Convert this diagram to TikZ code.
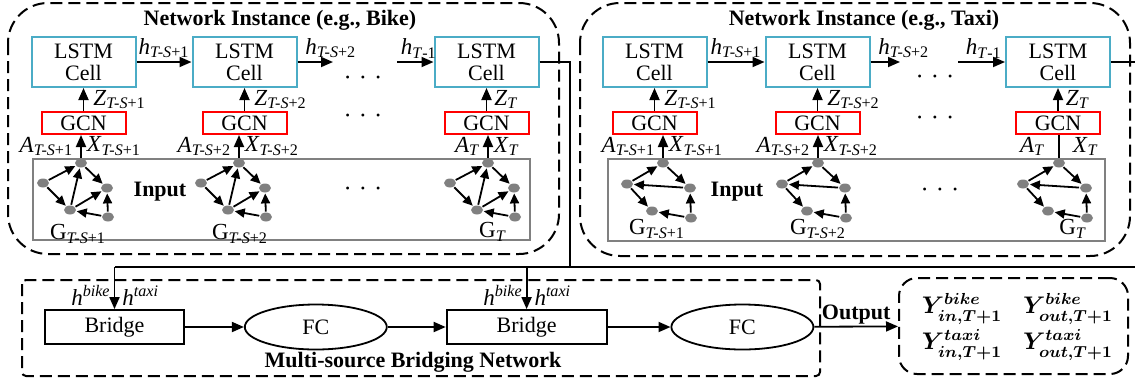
\documentclass[tikz,border=0pt]{standalone}
\usepackage{fontspec}
\setmainfont{Liberation Serif}
\usepackage{amsmath}
\usetikzlibrary{positioning, shapes.geometric, arrows.meta, calc}

\definecolor{lstmblue}{RGB}{75,172,198}
\definecolor{inputgray}{RGB}{128,128,128}
\newcommand{\isub}[2]{\textit{#1}\textsubscript{#2}}
\newcommand{\dotrow}{\textbullet\hspace{5.5pt}\textbullet\hspace{5.5pt}\textbullet}

\begin{document}
\begin{tikzpicture}[x=0.5pt, y=-0.5pt, >={Triangle[length=6pt,width=5pt]}, line width=0.9pt,
    cellbox/.style={draw=lstmblue, line width=1pt, minimum width=52pt, minimum height=25pt,
      inner sep=0pt, align=center, font=\fontsize{11}{11}\selectfont},
    gcnbox/.style={draw=red, line width=1pt, minimum width=42pt, minimum height=11pt,
      inner sep=0pt, font=\fontsize{11}{11}\selectfont},
    vertex/.style={ellipse, fill=inputgray, minimum width=6pt, minimum height=4.5pt, inner sep=0pt},
    link/.style={-{Triangle[length=5pt,width=4.5pt]}, line width=0.9pt},
    instbox/.style={draw, dash pattern=on 6pt off 3pt, line width=1pt, rounded corners=20pt},
    inbox/.style={draw=inputgray, line width=1.1pt},
    titletext/.style={font=\bfseries\fontsize{11}{11}\selectfont, inner sep=1pt},
    lbl/.style={font=\fontsize{11.5}{11.5}\selectfont, inner sep=1.5pt},
    dotstext/.style={font=\fontsize{6}{6}\selectfont, inner sep=0pt},
    bridgebox/.style={draw, line width=0.9pt, minimum height=17pt, inner sep=0pt,
      font=\fontsize{11}{11}\selectfont},
    fcnode/.style={ellipse, draw, line width=0.9pt, minimum width=71pt, minimum height=22.5pt,
      inner sep=0pt, font=\fontsize{11}{11}\selectfont},
    ynode/.style={font=\fontsize{12}{12}\selectfont\boldmath, inner sep=0pt},
  ]
  \useasboundingbox (0,0) rectangle (1135,381);

  % network instance: bike
  \draw[instbox] (8,3) rectangle (559,254);
  \node[titletext] (btitle) at (280,20) {Network Instance (e.g., Bike)};
  \node[cellbox] (bc1) at (83.5,62) {LSTM\\Cell};
  \node[cellbox, right=27.5pt of bc1] (bc2) {LSTM\\Cell};
  \node[cellbox] (bc3) at (486.5,62) {LSTM\\Cell};
  \node[gcnbox, below=11.5pt of bc1] (bg1) {GCN};
  \node[gcnbox, below=11.5pt of bc2] (bg2) {GCN};
  \node[gcnbox, below=11.5pt of bc3] (bg3) {GCN};
  \coordinate (bh2) at (333,62);
  \coordinate (bh3) at (397,62);
  \draw[->] (bc1) -- node[above, lbl] {\isub{h}{\textit{T-S}+1}} (bc2);
  \draw[->] (bc2) -- (bh2) node[pos=0, anchor=south west, lbl, xshift=2pt] {\isub{h}{\textit{T-S}+2}};
  \draw[->] (bh3) -- (bc3) node[pos=0, anchor=south west, lbl] {\isub{h}{\textit{T}-1}};
  \draw[->] (bg1) -- node[right, lbl, xshift=3pt] {\isub{Z}{\textit{T-S}+1}} (bc1);
  \draw[->] (bg2) -- node[right, lbl, xshift=3pt] {\isub{Z}{\textit{T-S}+2}} (bc2);
  \draw[->] (bg3) -- node[right, lbl, xshift=2pt] {\isub{Z}{\textit{T}}} (bc3);
  \node[dotstext] (bdots1) at (363,79) {\dotrow};
  \node[dotstext] (bdots2) at (363,117) {\dotrow};
  \draw[inbox] (33,159) rectangle (530,240);
  \node[titletext] (binput) at (160,192) {Input};
  \node[dotstext] (bdots3) at (363,190) {\dotrow};
  \foreach \gx [count=\g] in {0,158,407} {
    \begin{scope}[shift={(\gx,0)}]
      \node[vertex] (bv\g-t) at (81,163) {};
      \node[vertex] (bv\g-l) at (43,183) {};
      \node[vertex] (bv\g-r) at (107,188) {};
      \node[vertex] (bv\g-b) at (70,210) {};
      \node[vertex] (bv\g-br) at (108,217) {};
      \draw[link] (bv\g-l) -- (bv\g-t);
      \draw[link] (bv\g-l) -- (bv\g-b);
      \draw[link] (bv\g-b) -- (bv\g-t);
      \draw[link] (bv\g-t) -- (bv\g-r);
      \draw[link] (bv\g-b) -- (bv\g-r);
      \draw[link] (bv\g-br) -- (bv\g-r);
      \draw[link] (bv\g-br) -- (bv\g-b);
    \end{scope}
  }
  \node[lbl] (bgl1) at (78,234) {G\textsubscript{\textit{T-S}+1}};
  \node[lbl] (bgl2) at (240,234) {G\textsubscript{\textit{T-S}+2}};
  \node[lbl] (bgl3) at (493,232) {G\textsubscript{\textit{T}}};
  \draw[->] (bv1-t) -- node[left, lbl, xshift=-2pt] {\isub{A}{\textit{T-S}+1}} node[right, lbl, xshift=1pt] {\isub{X}{\textit{T-S}+1}} (bv1-t |- bg1.south);
  \draw[->] (bv2-t) -- node[left, lbl, xshift=-2pt] {\isub{A}{\textit{T-S}+2}} node[right, lbl, xshift=1pt] {\isub{X}{\textit{T-S}+2}} (bv2-t |- bg2.south);
  \draw[->] (bv3-t) -- node[left, lbl, xshift=-2pt] {\isub{A}{\textit{T}}} node[right, lbl, xshift=1pt] {\isub{X}{\textit{T}}} (bv3-t |- bg3.south);

  % network instance: taxi
  \draw[instbox] (580,3) rectangle (1130,256);
  \node[titletext] (ttitle) at (864,20) {Network Instance (e.g., Taxi)};
  \node[cellbox] (tc1) at (654.5,62) {LSTM\\Cell};
  \node[cellbox, right=28.5pt of tc1] (tc2) {LSTM\\Cell};
  \node[cellbox] (tc3) at (1058,62) {LSTM\\Cell};
  \node[gcnbox, below=11.5pt of tc1] (tg1) {GCN};
  \node[gcnbox, below=11.5pt of tc2] (tg2) {GCN};
  \node[gcnbox, below=11.5pt of tc3] (tg3) {GCN};
  \coordinate (th2) at (900,62);
  \coordinate (th3) at (958,62);
  \draw[->] (tc1) -- node[above, lbl] {\isub{h}{\textit{T-S}+1}} (tc2);
  \draw[->] (tc2) -- (th2) node[pos=0, anchor=south west, lbl, xshift=2pt] {\isub{h}{\textit{T-S}+2}};
  \draw[->] (th3) -- (tc3) node[pos=0, anchor=south west, lbl, xshift=2pt] {\isub{h}{\textit{T}-1}};
  \draw[->] (tg1) -- node[right, lbl, xshift=3pt] {\isub{Z}{\textit{T-S}+1}} (tc1);
  \draw[->] (tg2) -- node[right, lbl, xshift=3pt] {\isub{Z}{\textit{T-S}+2}} (tc2);
  \draw[->] (tg3) -- node[right, lbl, xshift=2pt] {\isub{Z}{\textit{T}}} (tc3);
  \node[dotstext] (tdots1) at (935,78) {\dotrow};
  \node[dotstext] (tdots2) at (935,119) {\dotrow};
  \draw[inbox] (608,159) rectangle (1105,241);
  \node[titletext] (tinput) at (737,192) {Input};
  \node[dotstext] (tdots3) at (940,191) {\dotrow};
  \foreach \gx [count=\g] in {0,155,396} {
    \begin{scope}[shift={(\gx,0)}]
      \node[vertex] (tv\g-t) at (663,163) {};
      \node[vertex] (tv\g-l) at (627,184) {};
      \node[vertex] (tv\g-r) at (690,188) {};
      \node[vertex] (tv\g-b) at (652,211) {};
      \node[vertex] (tv\g-br) at (691,218) {};
      \draw[link] (tv\g-l) -- (tv\g-t);
      \draw[link] (tv\g-t) -- (tv\g-r);
      \draw[link] (tv\g-r) -- (tv\g-l);
      \draw[link] (tv\g-l) -- (tv\g-b);
      \draw[link] (tv\g-br) -- (tv\g-b);
      \draw[link] (tv\g-br) -- (tv\g-r);
    \end{scope}
  }
  \node[lbl] (tgl1) at (657,229) {G\textsubscript{\textit{T-S}+1}};
  \node[lbl] (tgl2) at (818,229) {G\textsubscript{\textit{T-S}+2}};
  \node[lbl] (tgl3) at (1073,229) {G\textsubscript{\textit{T}}};
  \draw[->] (tv1-t) -- node[left, lbl, xshift=-2pt] {\isub{A}{\textit{T-S}+1}} node[right, lbl, xshift=1pt] {\isub{X}{\textit{T-S}+1}} (tv1-t |- tg1.south);
  \draw[->] (tv2-t) -- node[left, lbl, xshift=-2pt] {\isub{A}{\textit{T-S}+2}} node[right, lbl, xshift=1pt] {\isub{X}{\textit{T-S}+2}} (tv2-t |- tg2.south);
  \draw (tv3-t) -- node[left, lbl, xshift=-5pt] {\isub{A}{\textit{T}}} node[right, lbl, xshift=5pt] {\isub{X}{\textit{T}}} (tv3-t |- tg3.south);

  % multi-source bridging network
  \draw[dash pattern=on 6pt off 3pt, line width=1pt, rounded corners=2pt] (22,280) rectangle (820,376);
  \node[titletext] (mtitle) at (413,362) {Multi-source Bridging Network};
  \node[bridgebox, minimum width=69.5pt] (br1) at (114.5,327) {Bridge};
  \node[fcnode, right=29.5pt of br1] (fc1) {FC};
  \node[bridgebox, minimum width=80pt, right=29pt of fc1] (br2) {Bridge};
  \node[fcnode, right=31.5pt of br2] (fc2) {FC};
  \draw[->] (br1) -- (fc1);
  \draw[->] (fc1) -- (br2);
  \draw[->] (br2) -- (fc2);

  % hidden states to bridges
  \coordinate (bbend) at (570,267);
  \coordinate (tbend) at (1142,267);
  \coordinate (bus1) at (br1.north |- bbend);
  \coordinate (bus2) at (br2.north |- bbend);
  \draw (bc3) -| (bbend);
  \draw (tc3) -| (tbend) -- (bus1);
  \draw[->] (bus1) -- node[pos=0.68, left, lbl] {\textit{h}\textsuperscript{\textit{bike}}} node[pos=0.68, right, lbl, xshift=2pt] {\textit{h}\textsuperscript{\textit{taxi}}} (br1);
  \draw[->] (bus2) -- node[pos=0.68, left, lbl] {\textit{h}\textsuperscript{\textit{bike}}} node[pos=0.68, right, lbl, xshift=2pt] {\textit{h}\textsuperscript{\textit{taxi}}} (br2);

  % output
  \node[draw, dash pattern=on 6pt off 3pt, line width=1pt, rounded corners=9pt,
    minimum width=114.5pt, minimum height=48pt] (out) at (1013.5,326) {};
  \draw[->] (fc2) -- node[above, titletext] {Output} (out);
  \node[ynode] (y1) at (962,309) {$Y^{bike}_{\vphantom{b}in,T+1}$};
  \node[ynode] (y2) at (1068,309) {$Y^{bike}_{\vphantom{b}out,T+1}$};
  \node[ynode] (y3) at (962,345) {$Y^{taxi}_{\vphantom{b}in,T+1}$};
  \node[ynode] (y4) at (1068,345) {$Y^{taxi}_{\vphantom{b}out,T+1}$};
\end{tikzpicture}
\end{document}
